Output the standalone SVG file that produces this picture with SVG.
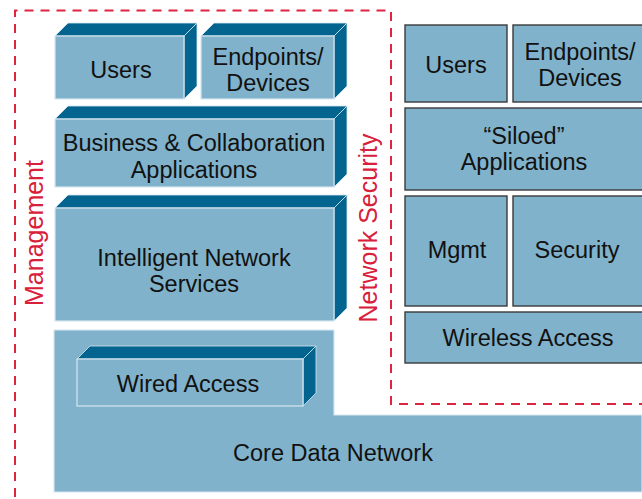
<svg xmlns="http://www.w3.org/2000/svg" width="642" height="499" viewBox="0 0 642 499">
<style>
.front{fill:#80b2cb;stroke:#d6e7f0;stroke-width:1.2}
.dark{fill:#02648f;stroke:#d6e7f0;stroke-width:0.8}
.flat{fill:#80b2cb;stroke:#3a3a3a;stroke-width:1.4}
.t{font-family:"Liberation Sans",Arial,sans-serif;font-size:23.5px;fill:#111;text-anchor:middle}
.r{font-family:"Liberation Sans",Arial,sans-serif;font-size:25px;fill:#d8203a;text-anchor:middle}
.dash{fill:none;stroke:#e0243e;stroke-width:2;stroke-dasharray:9 7}
</style>
<rect width="642" height="499" fill="#ffffff"/>
<g id="boundaries">
<path class="dash" d="M15,497 V10.5 H391 V404 H642"/>
</g>
<g id="core">
<path class="front" d="M54,330 H334 V415 H642 V492 H54 Z"/>
<text class="t" x="333" y="461">Core Data Network</text>
</g>
<g id="wired">
<polygon class="dark" points="77,359 90,346 316,346 303,359"/>
<polygon class="dark" points="303,359 316,346 316,393 303,406"/>
<rect class="front" x="77" y="359" width="226" height="47"/>
<text class="t" x="188" y="392">Wired Access</text>
</g>
<g id="users-left">
<polygon class="dark" points="55,36 68,23 197,23 184,36"/>
<polygon class="dark" points="184,36 197,23 197,86 184,99"/>
<rect class="front" x="55" y="36" width="129" height="63"/>
<text class="t" x="121" y="78">Users</text>
</g>
<g id="endpoints-left">
<polygon class="dark" points="201,36 214,23 347,23 334,36"/>
<polygon class="dark" points="334,36 347,23 347,86 334,99"/>
<rect class="front" x="201" y="36" width="133" height="63"/>
<text class="t" x="268" y="65">Endpoints/</text>
<text class="t" x="268" y="91">Devices</text>
</g>
<g id="business">
<polygon class="dark" points="55,119 68,106 347,106 334,119"/>
<polygon class="dark" points="334,119 347,106 347,174 334,187"/>
<rect class="front" x="55" y="119" width="279" height="68"/>
<text class="t" x="194" y="151">Business &amp; Collaboration</text>
<text class="t" x="194" y="178">Applications</text>
</g>
<g id="intelligent">
<polygon class="dark" points="55,208 68,195 347,195 334,208"/>
<polygon class="dark" points="334,208 347,195 347,308 334,321"/>
<rect class="front" x="55" y="208" width="279" height="113"/>
<text class="t" x="194" y="266">Intelligent Network</text>
<text class="t" x="194" y="292">Services</text>
</g>
<g id="management-label">
<text class="r" transform="translate(43,233) rotate(-90)">Management</text>
</g>
<g id="security-label">
<text class="r" transform="translate(377,228) rotate(-90)">Network Security</text>
</g>
<g id="users-right">
<rect class="flat" x="405" y="25" width="102" height="77"/>
<text class="t" x="456" y="73">Users</text>
</g>
<g id="endpoints-right">
<rect class="flat" x="513" y="25" width="140" height="77"/>
<text class="t" x="580" y="60">Endpoints/</text>
<text class="t" x="580" y="86">Devices</text>
</g>
<g id="siloed">
<rect class="flat" x="405" y="108" width="248" height="82"/>
<text class="t" x="524" y="144">“Siloed”</text>
<text class="t" x="524" y="170">Applications</text>
</g>
<g id="mgmt">
<rect class="flat" x="405" y="196" width="102" height="110"/>
<text class="t" x="457" y="258">Mgmt</text>
</g>
<g id="security">
<rect class="flat" x="513" y="196" width="140" height="110"/>
<text class="t" x="577" y="258">Security</text>
</g>
<g id="wireless">
<rect class="flat" x="405" y="312" width="248" height="51"/>
<text class="t" x="528" y="346">Wireless Access</text>
</g>
</svg>
